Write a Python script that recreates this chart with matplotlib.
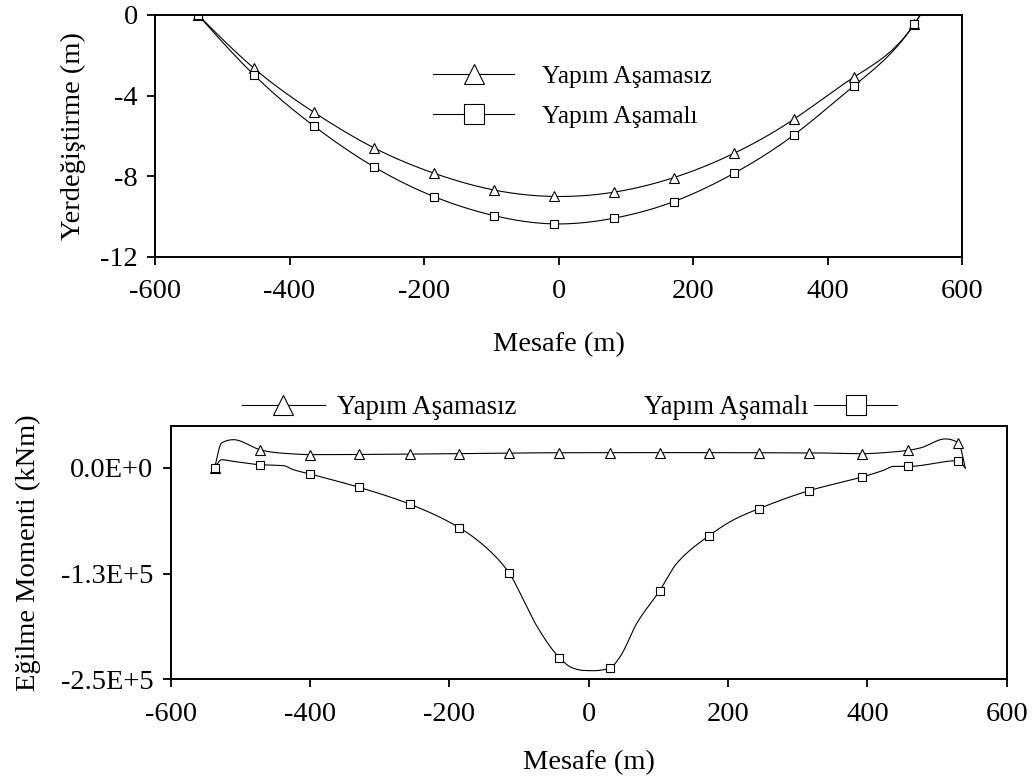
import numpy as np
import matplotlib
matplotlib.use('Agg')
import matplotlib.pyplot as plt
from matplotlib.lines import Line2D

plt.rcParams['font.family'] = ['Liberation Serif', 'DejaVu Serif']
plt.rcParams['font.size'] = 20.5
plt.rcParams['axes.unicode_minus'] = False

# ---- data: top chart (displacement) ----
dist_top = [-536, -453, -364, -275, -185, -96, -7, 82, 171, 261, 350, 439, 529]
disp_no_stage = [0.0, -2.64, -4.82, -6.58, -7.85, -8.68, -9.00, -8.79, -8.07, -6.86, -5.17, -3.09, -0.46]
disp_stage = [0.0, -2.97, -5.50, -7.52, -9.01, -9.95, -10.36, -10.08, -9.26, -7.85, -5.95, -3.52, -0.46]
# end of the drawn curves (past the last marker)
curve_end_x = 538
curve_end_y = 0.0

# ---- data: bottom chart (bending moment) ----
dist_bot = [-537, -472, -400, -329, -257, -185.5, -114.6, -42, 30, 102, 172.5, 244, 316, 392, 459, 530.5]
mom_no_stage = [0, 20900, 15800, 16200, 16500, 16800, 17200, 17800, 18200, 18200, 17800, 17600, 17500, 16900, 20900, 29600]
mom_stage = [0, 3500, -7100, -23000, -42700, -70700, -123700, -224400, -237000, -145000, -80200, -48200, -26900, -10700, 1900, 8700]

# curve points
line_no_x = [-537, -527, -510, -472, -457, -429, -400, -200, -55, 100, 328, 392, 437.6, 458.7, 476, 512, 531, 540.5]
line_no_y = [0, 29600, 33500, 21700, 19000, 16900, 15800, 16800, 18000, 18200, 17800, 16900, 19000, 20900, 23700, 34400, 29600, 0]
line_st_x = [-537, -527, -510, -472, -438, -424, -400, -329, -257, -185.5, -146, -114.6, -93.6, -74, -42, -24,
             -7.5, 7, 30, 45, 69, 102, 126.6, 172.5, 208, 244, 316, 392, 423, 437.6, 458.7, 530.5, 540.5]
line_st_y = [0, 9800, 7800, 3900, 2700, -2000, -7100, -23000, -42700, -70700, -95000, -123700, -156000, -187700,
             -224400, -236300, -239500, -239800, -237000, -223300, -183700, -145000, -112600, -80200, -61300,
             -48200, -26900, -10700, -2800, 1900, 1900, 8700, 0]

mom_ticks = [0, -125000, -250000]
mom_tick_labels = ['0.0E+0', '-1.3E+5', '-2.5E+5']
disp_ticks = [0, -4, -8, -12]
dist_ticks = [-600, -400, -200, 0, 200, 400, 600]

lbl_no = 'Yapım Aşamasız'
lbl_st = 'Yapım Aşamalı'


def spline(x, y, n=300):
    # natural cubic spline, only used to draw a smooth line through the read points
    x = np.asarray(x, float)
    y = np.asarray(y, float)
    h = np.diff(x)
    m = len(x)
    A = np.zeros((m, m))
    r = np.zeros(m)
    A[0, 0] = A[-1, -1] = 1
    for i in range(1, m - 1):
        A[i, i - 1] = h[i - 1]
        A[i, i] = 2 * (h[i - 1] + h[i])
        A[i, i + 1] = h[i]
        r[i] = 3 * ((y[i + 1] - y[i]) / h[i] - (y[i] - y[i - 1]) / h[i - 1])
    c = np.linalg.solve(A, r)
    b = (y[1:] - y[:-1]) / h - h * (2 * c[:-1] + c[1:]) / 3
    d = (c[1:] - c[:-1]) / (3 * h)
    xs = np.linspace(x[0], x[-1], n)
    idx = np.clip(np.searchsorted(x, xs) - 1, 0, m - 2)
    dx = xs - x[idx]
    return xs, y[idx] + b[idx] * dx + c[idx] * dx ** 2 + d[idx] * dx ** 3


def pchip(x, y, n=600):
    # shape-preserving cubic (no overshoot), for the lines with sharp ends
    x = np.asarray(x, float)
    y = np.asarray(y, float)
    h = np.diff(x)
    delta = np.diff(y) / h
    d = np.zeros_like(y)
    for k in range(1, len(x) - 1):
        if delta[k - 1] * delta[k] > 0:
            w1 = 2 * h[k] + h[k - 1]
            w2 = h[k] + 2 * h[k - 1]
            d[k] = (w1 + w2) / (w1 / delta[k - 1] + w2 / delta[k])
    d[0] = delta[0]
    d[-1] = delta[-1]
    xs = np.linspace(x[0], x[-1], n)
    idx = np.clip(np.searchsorted(x, xs) - 1, 0, len(x) - 2)
    t = (xs - x[idx]) / h[idx]
    h00 = 2 * t ** 3 - 3 * t ** 2 + 1
    h10 = t ** 3 - 2 * t ** 2 + t
    h01 = -2 * t ** 3 + 3 * t ** 2
    h11 = t ** 3 - t ** 2
    ys = h00 * y[idx] + h10 * h[idx] * d[idx] + h01 * y[idx + 1] + h11 * h[idx] * d[idx + 1]
    return xs, ys


def style_axes(ax):
    for s in ax.spines.values():
        s.set_linewidth(1.4)
    ax.tick_params(direction='out', length=6, width=1.3, labelsize=20.5)
    ax.tick_params(axis='x', pad=10)
    ax.tick_params(axis='y', pad=6.5)


fig = plt.figure(figsize=(10.32, 7.82), dpi=100)

lh1 = Line2D([], [], color='black', lw=0.8, marker='^', ms=15, mfc='white', mec='black', mew=0.8)
lh2 = Line2D([], [], color='black', lw=0.8, marker='s', ms=14, mfc='white', mec='black', mew=0.8)

# ---------------- top chart ----------------
ax1 = fig.add_axes([0.1502, 0.6714, 0.782, 0.3095])
for yv in (disp_no_stage, disp_stage):
    xs, ys = spline(dist_top + [curve_end_x], yv + [curve_end_y])
    ax1.plot(xs, ys, color='black', lw=0.8)
ax1.plot(dist_top, disp_no_stage, marker='^', ms=7, mfc='white', mec='black', mew=0.8, linestyle='none')
ax1.plot(dist_top, disp_stage, marker='s', ms=6, mfc='white', mec='black', mew=0.8, linestyle='none')
ax1.legend([lh1, lh2], [lbl_no, lbl_st], loc='upper left', bbox_to_anchor=(0.3445, 0.792),
           frameon=False, borderpad=0, borderaxespad=0, handlelength=3.2, handletextpad=1.1,
           labelspacing=0.67, fontsize=18.3)
ax1.set_xlim(-600, 600)
ax1.set_ylim(-12, 0)
ax1.set_xticks(dist_ticks)
ax1.set_yticks(disp_ticks)
ax1.set_xlabel('Mesafe (m)', labelpad=20)
ax1.set_ylabel('Yerdeğiştirme (m)', labelpad=10)
style_axes(ax1)

# ---------------- bottom chart ----------------
ax2 = fig.add_axes([0.1654, 0.1313, 0.8101, 0.3243])
xs, ys = pchip(line_no_x, line_no_y)
ax2.plot(xs, ys, color='black', lw=0.8)
xs, ys = pchip(line_st_x, line_st_y)
ax2.plot(xs, ys, color='black', lw=0.8)
ax2.plot(dist_bot, mom_no_stage, marker='^', ms=7, mfc='white', mec='black', mew=0.8, linestyle='none')
ax2.plot(dist_bot, mom_stage, marker='s', ms=6, mfc='white', mec='black', mew=0.8, linestyle='none')
leg1 = ax2.legend([lh1], [lbl_no], loc='center left', bbox_to_anchor=(0.085, 1.071),
                  frameon=False, borderpad=0, borderaxespad=0, handlelength=3.1,
                  handletextpad=0.45, fontsize=19.3)
ax2.add_artist(leg1)
ax2.legend([lh2], [lbl_st], loc='center right', bbox_to_anchor=(0.869, 1.071),
           frameon=False, borderpad=0, borderaxespad=0, handlelength=3.1,
           handletextpad=0.22, fontsize=19.3, markerfirst=False)
ax2.set_xlim(-600, 600)
ax2.set_ylim(-250000, 50000)
ax2.set_xticks(dist_ticks)
ax2.set_yticks(mom_ticks)
ax2.set_yticklabels(mom_tick_labels)
ax2.set_xlabel('Mesafe (m)', labelpad=17)
ax2.set_ylabel('Eğilme Momenti (kNm)', labelpad=14)
style_axes(ax2)

fig.savefig('out.png', dpi=100)
